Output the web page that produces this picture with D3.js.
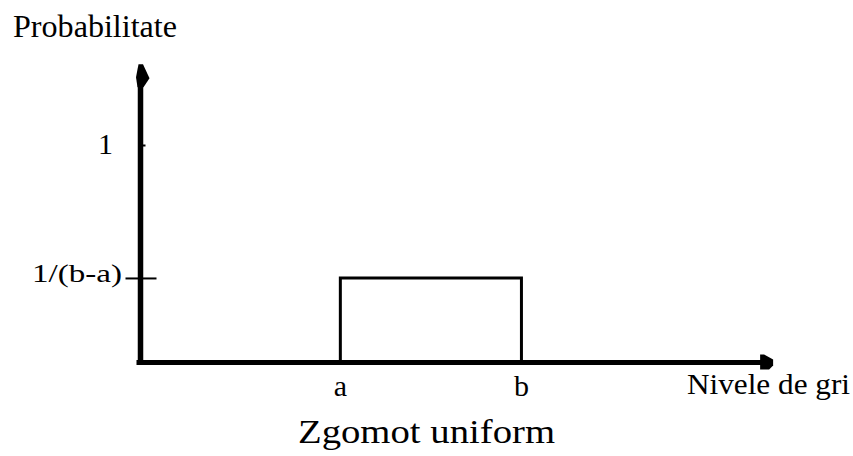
<!DOCTYPE html>
<html>
<head>
<meta charset="utf-8">
<script src="https://cdn.jsdelivr.net/npm/d3@7"></script>
<style>
  html, body { margin: 0; padding: 0; background: #fff; }
  svg { display: block; }
  text { font-family: "Liberation Serif", "DejaVu Serif", serif; fill: #000; }
</style>
</head>
<body>
<svg id="chart" width="853" height="456"></svg>
<script>
// ---- data ----
const xCategories = ["a", "b"];          // interval bounds
const xValues = [3.2, 6.1];              // positions of a and b on the grey-level axis
const densityValue = 0.385;              // 1/(b-a)
const yTickValues = [0.385, 1];
const yTickLabels = ["1/(b-a)", "1"];
const yTitle = "Probabilitate";
const xTitle = "Nivele de gri";
const chartTitle = "Zgomot uniform";

// ---- scales ----
const x = d3.scaleLinear().domain([0, 10]).range([140.5, 765]);
const y = d3.scaleLinear().domain([0, 1]).range([362.5, 145.5]);

const svg = d3.select("#chart");

// uniform density box
const box = svg.append("g");
box.append("path")
  .attr("d", d3.line()([
    [x(xValues[0]), y(0)],
    [x(xValues[0]), y(densityValue) - 1],
    [x(xValues[1]), y(densityValue) - 1],
    [x(xValues[1]), y(0)]
  ]))
  .attr("fill", "none")
  .attr("stroke", "#000")
  .attr("stroke-width", 3)
  .attr("stroke-linejoin", "miter");

// axes
const axes = svg.append("g");
axes.append("line")
  .attr("x1", x(0)).attr("x2", x(0))
  .attr("y1", y(1.33)).attr("y2", y(0) + 2.5)
  .attr("stroke", "#000").attr("stroke-width", 5.5);
axes.append("line")
  .attr("x1", x(0) - 4).attr("x2", x(10.05))
  .attr("y1", y(0)).attr("y2", y(0))
  .attr("stroke", "#000").attr("stroke-width", 5);

// arrow heads
const yTop = y(1.375);
axes.append("path")
  .attr("d", `M${x(0) - 2},${yTop} L${x(0) + 2.5},${yTop} L${x(0) + 9},${yTop + 14} L${x(0) + 3},${yTop + 23} L${x(0) - 3},${yTop + 23} L${x(0) - 4.5},${yTop + 13} Z`)
  .attr("fill", "#000");
const xEnd = x(10.13);
axes.append("path")
  .attr("d", `M${xEnd},${y(0) - 3} L${xEnd},${y(0) + 3} L${xEnd - 4},${y(0) + 7} L${xEnd - 13},${y(0) + 7} L${xEnd - 13},${y(0) - 8} L${xEnd - 9},${y(0) - 8} Z`)
  .attr("fill", "#000");

// y ticks
const yTicks = svg.append("g");
yTicks.append("line")
  .attr("x1", x(0) - 15).attr("x2", x(0) + 16)
  .attr("y1", y(yTickValues[0]) - 0.5).attr("y2", y(yTickValues[0]) - 0.5)
  .attr("stroke", "#000").attr("stroke-width", 2);
yTicks.append("line")
  .attr("x1", x(0)).attr("x2", x(0) + 5)
  .attr("y1", y(yTickValues[1])).attr("y2", y(yTickValues[1]))
  .attr("stroke", "#000").attr("stroke-width", 2);

yTicks.append("text")
  .attr("x", 32).attr("y", y(yTickValues[0]) + 3.5)
  .attr("font-size", 25)
  .attr("textLength", 90).attr("lengthAdjust", "spacingAndGlyphs")
  .text(yTickLabels[0]);
yTicks.append("text")
  .attr("x", 113).attr("y", y(yTickValues[1]) + 8.5)
  .attr("text-anchor", "end")
  .attr("font-size", 30)
  .text(yTickLabels[1]);

// x tick labels
svg.append("g").selectAll("text")
  .data(xCategories)
  .join("text")
  .attr("x", (d, i) => x(xValues[i]))
  .attr("y", 396)
  .attr("text-anchor", "middle")
  .attr("font-size", 30)
  .text(d => d);

// titles
svg.append("text")
  .attr("x", 13).attr("y", 37)
  .attr("font-size", 32)
  .attr("textLength", 164).attr("lengthAdjust", "spacingAndGlyphs")
  .text(yTitle);

svg.append("text")
  .attr("x", 687).attr("y", 394)
  .attr("font-size", 30)
  .attr("textLength", 163).attr("lengthAdjust", "spacingAndGlyphs")
  .text(xTitle);

svg.append("text")
  .attr("x", 298).attr("y", 443)
  .attr("font-size", 33)
  .attr("textLength", 257).attr("lengthAdjust", "spacingAndGlyphs")
  .text(chartTitle);
</script>
</body>
</html>
